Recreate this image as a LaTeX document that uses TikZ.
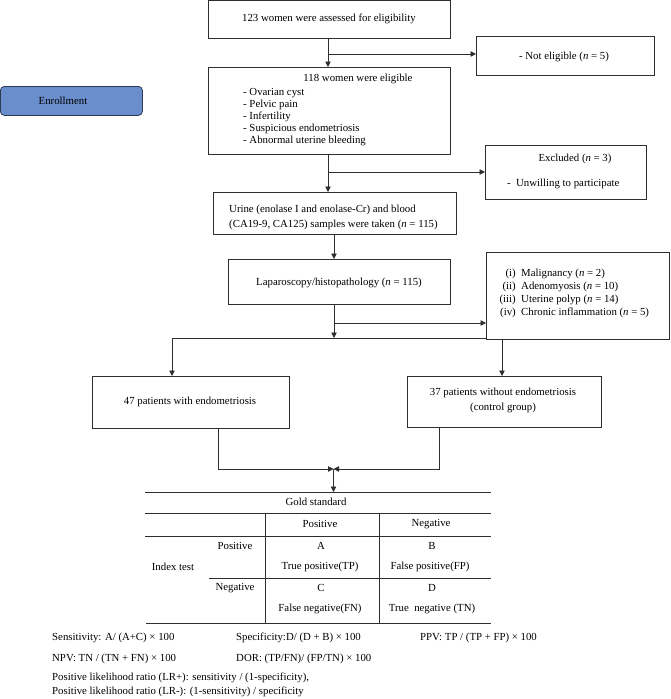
\documentclass[tikz,border=0pt]{standalone}
\usepackage{fontspec}
\setmainfont{Liberation Serif}
\usetikzlibrary{arrows.meta}
\definecolor{linecol}{HTML}{2E2E2E}
\definecolor{enrollfill}{HTML}{6A8DCB}
\definecolor{enrolldraw}{HTML}{2B3A55}
\tikzset{
  box/.style={draw=linecol, line width=0.8pt, inner sep=0pt, anchor=north west},
  arr/.style={draw=linecol, line width=0.8pt, -{Triangle[length=5.5pt,width=5.5pt]}},
  ln/.style={draw=linecol, line width=0.8pt},
  txt/.style={inner sep=0pt, font=\fontsize{10.8}{13}\selectfont},
  ltxt/.style={txt, anchor=west},
}
\begin{document}
\begin{tikzpicture}[x=1pt,y=-1pt]
\useasboundingbox (0,0) rectangle (670,699);
% boxes
\node[box, minimum width=242pt, minimum height=38pt] (b1) at (208,0) {};
\node[txt] (t1) at (329,19) {123 women were assessed for eligibility};
\node[box, minimum width=178pt, minimum height=39pt] (ne) at (476,36) {};
\node[txt] (tne) at (564,57) {- Not eligible (\textit{n} = 5)};
\node[box, minimum width=242pt, minimum height=87pt] (b2) at (208,67) {};
\node[txt] (t2) at (358,79) {118 women were eligible};
\node[ltxt] (t2a) at (243,93) {- Ovarian cyst};
\node[ltxt] (t2b) at (243,105) {- Pelvic pain};
\node[ltxt] (t2c) at (243,117) {- Infertility};
\node[ltxt] (t2d) at (243,129) {- Suspicious endometriosis};
\node[ltxt] (t2e) at (243,141) {- Abnormal uterine bleeding};
\node[draw=enrolldraw, fill=enrollfill, line width=0.8pt, rounded corners=4pt, anchor=north west, minimum width=142pt, minimum height=29pt, inner sep=0pt] (en) at (0,86) {};
\node[txt] (ten) at (63,101) {Enrollment};
\node[box, minimum width=161pt, minimum height=54pt] (ex) at (485,145) {};
\node[txt] (tex1) at (575,159) {Excluded (\textit{n} = 3)};
\node[ltxt] (tex2) at (507,184) {-\enspace Unwilling to participate};
\node[box, minimum width=243pt, minimum height=42pt] (b3) at (213,192) {};
\node[ltxt] (t3a) at (229,210) {Urine (enolase I and enolase-Cr) and blood};
\node[ltxt] (t3b) at (229,225) {(CA19-9, CA125) samples were taken (\textit{n} = 115)};
\node[box, minimum width=222pt, minimum height=45pt] (b4) at (228,259) {};
\node[txt] (t4) at (339,283) {Laparoscopy/histopathology (\textit{n} = 115)};
\node[box, minimum width=183pt, minimum height=87pt] (rb) at (486,252) {};
\node[txt, anchor=east] (r1l) at (516,274) {(i)};
\node[ltxt] (r1) at (521,274) {Malignancy (\textit{n} = 2)};
\node[txt, anchor=east] (r2l) at (516,287) {(ii)};
\node[ltxt] (r2) at (521,287) {Adenomyosis (\textit{n} = 10)};
\node[txt, anchor=east] (r3l) at (516,300) {(iii)};
\node[ltxt] (r3) at (521,300) {Uterine polyp (\textit{n} = 14)};
\node[txt, anchor=east] (r4l) at (516,313) {(iv)};
\node[ltxt] (r4) at (521,313) {Chronic inflammation (\textit{n} = 5)};
\node[box, minimum width=197pt, minimum height=52pt] (p47) at (92,376) {};
\node[txt] (t47) at (190,402) {47 patients with endometriosis};
\node[box, minimum width=194pt, minimum height=51pt] (p37) at (407,376) {};
\node[txt] (t37a) at (503,393) {37 patients without endometriosis};
\node[txt] (t37b) at (503,408) {(control group)};
% connectors
\coordinate (j1) at (328,54);
\draw[arr] (b1.south -| j1) -- (b2.north -| j1);
\draw[arr] (j1) -- (j1 -| ne.west);
\coordinate (j2) at (328,172);
\draw[arr] (b2.south -| j2) -- (b3.north -| j2);
\draw[arr] (j2) -- (j2 -| ex.west);
\coordinate (j3) at (334,234);
\draw[arr] (b3.south -| j3) -- (b4.north -| j3);
\coordinate (j4) at (334,323);
\coordinate (hl) at (334,338);
\draw[arr] (b4.south -| j4) -- (hl);
\draw[arr] (j4) -- (j4 -| rb.west);
\coordinate (hlL) at (172,338);
\draw[ln] (hlL) -- (hl -| rb.west);
\draw[arr] (hlL) -- (p47.north -| hlL);
\coordinate (j5) at (502,339);
\draw[arr] (rb.south -| j5) -- (p37.north -| j5);
\coordinate (m) at (333.5,469);
\coordinate (mL) at (218,469);
\coordinate (mR) at (439,469);
\draw[arr] (p47.south -| mL) -- (mL) -- (m);
\draw[arr] (p37.south -| mR) -- (mR) -- (m);
\coordinate (tt) at (333.5,492);
\draw[arr] (m) -- (tt);
% table
\draw[ln] (145,492) -- (491,492);
\node[txt] (gs) at (316,502) {Gold standard};
\draw[ln] (145,513) -- (491,513);
\draw[ln] (265,513) -- (265,623);
\draw[ln] (379,513) -- (379,623);
\node[txt] (hp) at (320,524) {Positive};
\node[txt] (hn) at (431,524) {Negative};
\draw[ln] (145,536) -- (491,536);
\node[txt] (rp) at (235,546) {Positive};
\node[txt] (ca) at (321,546) {A};
\node[txt] (cb) at (432,546) {B};
\node[txt] (it) at (173,567) {Index test};
\node[txt] (ctp) at (320,567) {True positive(TP)};
\node[txt] (cfp) at (430,567) {False positive(FP)};
\draw[ln] (209,578) -- (491,578);
\node[txt] (rn) at (235,588) {Negative};
\node[txt] (cc) at (321,588) {C};
\node[txt] (cd) at (432,588) {D};
\node[txt] (cfn) at (320,609) {False negative(FN)};
\node[txt] (ctn) at (432,609) {True\ \ negative (TN)};
\draw[ln] (146,623) -- (491,623);
% formulas
\node[ltxt] (f1) at (52,638) {Sensitivity: A/ (A+C) × 100};
\node[ltxt] (f2) at (236,638) {Specificity:D/ (D + B) × 100};
\node[ltxt] (f3) at (420,638) {PPV: TP / (TP + FP) × 100};
\node[ltxt] (f4) at (52,659) {NPV: TN / (TN + FN) × 100};
\node[ltxt] (f5) at (236,659) {DOR: (TP/FN)/ (FP/TN) × 100};
\node[ltxt] (f6) at (52,678) {Positive likelihood ratio (LR+): sensitivity / (1-specificity),};
\node[ltxt] (f7) at (52,692) {Positive likelihood ratio (LR-): (1-sensitivity) / specificity};
\end{tikzpicture}
\end{document}
